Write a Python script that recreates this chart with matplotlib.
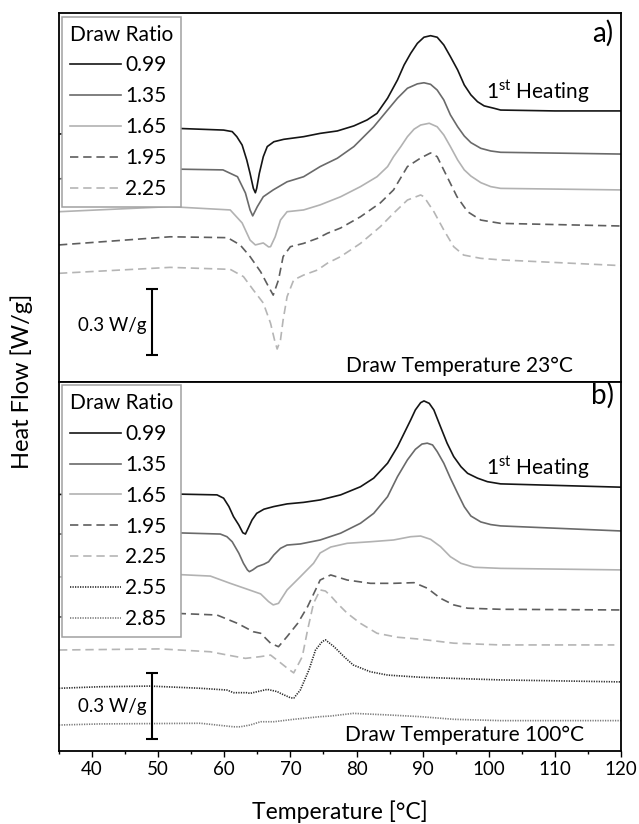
import matplotlib
matplotlib.use("Agg")
import matplotlib.pyplot as plt

plt.rcParams["font.family"] = ["Lato", "DejaVu Sans"]
plt.rcParams["mathtext.fontset"] = "custom"
plt.rcParams["mathtext.rm"] = "Lato"
plt.rcParams["lines.scale_dashes"] = False

# ---- panel a) draw temperature 23 C ----
A_099_T = [35, 45, 52.6, 59.9, 61.2, 61.9, 62.7, 63.4, 63.9, 64.4, 64.7, 64.9, 65.3, 65.9, 66.5, 67.5, 69.0,
           72.0, 74.5, 77.1, 79.6, 81.6, 83.1, 84.7, 86.2, 87.2, 88.2, 89.2, 90.2, 91.2, 92.2, 93.2, 94.2,
           95.3, 96.3, 97.3, 98.3, 99.3, 100.8, 101.8, 110, 120]
A_099_HF = [1.127, 1.141, 1.153, 1.145, 1.138, 1.115, 1.077, 1.009, 0.948, 0.880, 0.860, 0.880, 0.948, 1.024,
            1.070, 1.092, 1.103, 1.115, 1.130, 1.141, 1.164, 1.191, 1.221, 1.290, 1.373, 1.441, 1.494, 1.539,
            1.567, 1.574, 1.567, 1.532, 1.479, 1.418, 1.350, 1.305, 1.274, 1.255, 1.244, 1.236, 1.232, 1.232]

A_135_T = [35, 45, 51.8, 59.8, 62.0, 63.2, 63.9, 64.3, 65.0, 65.9, 67.4, 69.5, 72.0, 74.5, 77.1, 79.6, 81.1,
           82.6, 84.7, 86.2, 87.7, 89.2, 90.2, 91.2, 92.2, 93.2, 94.2, 95.3, 96.3, 97.3, 98.8, 100.3, 101.8, 120]
A_135_HF = [0.923, 0.955, 0.968, 0.964, 0.933, 0.859, 0.782, 0.755, 0.797, 0.842, 0.873, 0.910, 0.933, 0.979,
            1.017, 1.070, 1.115, 1.160, 1.236, 1.290, 1.335, 1.355, 1.360, 1.353, 1.327, 1.282, 1.214, 1.160,
            1.118, 1.088, 1.062, 1.050, 1.044, 1.036]

A_165_T = [35, 51.8, 60.9, 62.7, 63.9, 64.7, 65.9, 66.7, 67.0, 67.7, 68.5, 69.5, 72.0, 74.5, 77.6, 80.6, 83.1,
           84.7, 85.6, 86.7, 87.7, 88.7, 89.7, 91.0, 92.2, 93.2, 94.2, 95.3, 96.3, 97.3, 98.8, 100.3, 101.8, 120]
A_165_HF = [0.774, 0.797, 0.782, 0.723, 0.645, 0.623, 0.632, 0.614, 0.615, 0.660, 0.736, 0.774, 0.782, 0.805,
            0.842, 0.888, 0.933, 0.979, 1.024, 1.070, 1.115, 1.149, 1.168, 1.176, 1.160, 1.123, 1.070, 1.009,
            0.964, 0.936, 0.906, 0.888, 0.880, 0.873]

A_195_T = [35, 51.8, 60.5, 62.4, 63.9, 65.5, 66.7, 67.4, 68.2, 68.9, 70.0, 72.0, 74.1, 75.6, 77.6, 80.6, 83.6,
           85.6, 87.7, 89.7, 91.2, 92.2, 93.7, 95.2, 96.8, 98.8, 101.8, 120]
A_195_HF = [0.623, 0.660, 0.656, 0.623, 0.570, 0.501, 0.433, 0.395, 0.464, 0.570, 0.615, 0.630, 0.653, 0.676,
            0.700, 0.751, 0.814, 0.873, 0.979, 1.018, 1.041, 1.024, 0.933, 0.842, 0.774, 0.736, 0.721, 0.709]

A_225_T = [35, 51.8, 60.9, 62.9, 64.4, 65.9, 67.0, 67.6, 68.0, 68.5, 68.9, 69.5, 70.5, 72.0, 74.1, 75.6, 77.6,
           80.6, 83.6, 85.6, 87.7, 89.7, 90.2, 91.7, 93.2, 94.7, 96.2, 98.8, 101.8, 120]
A_225_HF = [0.494, 0.521, 0.512, 0.479, 0.418, 0.359, 0.267, 0.191, 0.150, 0.191, 0.282, 0.388, 0.464, 0.486,
            0.509, 0.540, 0.570, 0.630, 0.706, 0.767, 0.827, 0.850, 0.842, 0.774, 0.691, 0.615, 0.577, 0.562,
            0.555, 0.529]

# ---- panel b) draw temperature 100 C ----
B_099_T = [35, 52.3, 58.9, 59.9, 60.7, 61.4, 62.2, 62.8, 63.2, 63.5, 64.2, 64.9, 66.0, 67.5, 69.5, 72.0, 74.5,
           77.6, 80.6, 82.6, 84.7, 86.2, 87.2, 88.2, 88.9, 89.7, 90.2, 91.0, 91.7, 92.7, 93.7, 94.7, 95.8,
           96.8, 98.3, 99.8, 101.8, 120]
B_099_HF = [1.166, 1.168, 1.164, 1.149, 1.111, 1.065, 1.027, 0.992, 0.986, 1.005, 1.050, 1.080, 1.099, 1.111,
            1.123, 1.130, 1.141, 1.164, 1.201, 1.240, 1.308, 1.383, 1.444, 1.505, 1.550, 1.583, 1.591, 1.580,
            1.550, 1.474, 1.399, 1.338, 1.292, 1.262, 1.240, 1.224, 1.214, 1.199]

B_135_T = [35, 52.3, 59.4, 60.4, 61.2, 62.2, 62.9, 63.5, 63.8, 64.3, 65.0, 66.0, 66.7, 67.5, 68.5, 69.5, 71.5,
           74.5, 77.6, 80.6, 82.6, 84.7, 86.2, 87.7, 88.9, 89.9, 90.7, 91.5, 92.2, 93.2, 94.2, 95.3, 96.3,
           97.3, 98.8, 100.3, 101.8, 120]
B_135_HF = [0.986, 0.992, 0.986, 0.974, 0.951, 0.899, 0.853, 0.823, 0.815, 0.823, 0.838, 0.849, 0.860, 0.891,
            0.921, 0.936, 0.941, 0.959, 0.990, 1.035, 1.080, 1.156, 1.247, 1.323, 1.371, 1.395, 1.399, 1.391,
            1.361, 1.308, 1.240, 1.171, 1.110, 1.068, 1.041, 1.029, 1.023, 1.000]

B_165_T = [35, 52.3, 57.9, 60.9, 63.5, 65.5, 66.7, 67.4, 68.2, 69.5, 71.5, 73.5, 74.5, 76.1, 78.6, 82.1, 85.6,
           88.2, 89.7, 91.2, 92.7, 94.2, 95.8, 97.8, 101.8, 120]
B_165_HF = [0.791, 0.803, 0.795, 0.762, 0.735, 0.714, 0.679, 0.664, 0.671, 0.732, 0.792, 0.853, 0.900, 0.927,
            0.944, 0.951, 0.959, 0.974, 0.977, 0.962, 0.929, 0.883, 0.853, 0.835, 0.830, 0.823]

B_195_T = [35, 52.3, 58.9, 62.0, 64.4, 65.5, 67.0, 68.2, 69.5, 71.1, 72.6, 73.8, 74.5, 76.1, 78.6, 82.1, 85.6,
           88.7, 90.7, 92.7, 94.7, 96.8, 101.8, 120]
B_195_HF = [0.609, 0.626, 0.618, 0.580, 0.542, 0.535, 0.490, 0.474, 0.520, 0.580, 0.656, 0.732, 0.777, 0.800,
            0.777, 0.762, 0.762, 0.765, 0.740, 0.694, 0.664, 0.649, 0.644, 0.641]

B_225_T = [35, 50.3, 57.9, 60.5, 63.2, 65.5, 67.0, 68.5, 69.5, 70.5, 71.3, 71.8, 72.6, 73.5, 74.5, 75.3, 76.1,
           77.1, 78.6, 80.6, 83.1, 86.2, 89.7, 94.7, 101.8, 119]
B_225_HF = [0.459, 0.464, 0.451, 0.436, 0.421, 0.429, 0.436, 0.401, 0.377, 0.355, 0.400, 0.429, 0.550, 0.671,
            0.732, 0.727, 0.705, 0.671, 0.626, 0.580, 0.535, 0.517, 0.508, 0.490, 0.482, 0.482]

B_255_T = [35, 41.2, 48.8, 56.4, 60.4, 61.4, 63.4, 63.9, 66.5, 68.0, 68.5, 70.0, 70.5, 71.5, 72.8, 73.8, 74.8,
           75.3, 76.6, 78.1, 79.5, 82.1, 84.7, 89.7, 94.7, 101.8, 120]
B_255_HF = [0.285, 0.292, 0.295, 0.285, 0.277, 0.265, 0.265, 0.262, 0.280, 0.270, 0.262, 0.242, 0.240, 0.277,
            0.368, 0.459, 0.497, 0.505, 0.474, 0.429, 0.391, 0.360, 0.345, 0.335, 0.330, 0.323, 0.314]

B_285_T = [35, 41.2, 56.4, 61.4, 62.4, 63.9, 65.5, 67.5, 70.5, 74.5, 76.1, 79.5, 84.7, 89.7, 94.7, 101.8, 120]
B_285_HF = [0.118, 0.123, 0.126, 0.110, 0.110, 0.118, 0.133, 0.133, 0.144, 0.156, 0.159, 0.171, 0.164, 0.156,
            0.144, 0.138, 0.138]

RATIOS_A = ["0.99", "1.35", "1.65", "1.95", "2.25"]
RATIOS_B = ["0.99", "1.35", "1.65", "1.95", "2.25", "2.55", "2.85"]

# line look per draw ratio
STYLE = {
    "0.99": dict(color="#151515", linestyle="-"),
    "1.35": dict(color="#6a6a6a", linestyle="-"),
    "1.65": dict(color="#b2b2b2", linestyle="-"),
    "1.95": dict(color="#5e5e5e", dashes=(6, 3.5)),
    "2.25": dict(color="#b5b5b5", dashes=(6, 3.5)),
    "2.55": dict(color="#2a2a2a", dashes=(0.9, 0.9)),
    "2.85": dict(color="#7a7a7a", dashes=(0.9, 0.9)),
}

FS = 13.5
LEG_FS = 15


def draw_panel(ax, curves, ratios, tag, draw_temp, bar_y, text_y, tag_y, heat_y, temp_x, leg_top):
    for r, (t, hf) in zip(ratios, curves):
        ax.plot(t, hf, lw=1.2, label=r, **STYLE[r])

    ax.set_xlim(35, 120)
    ax.set_ylim(0, 1.677)
    ax.set_yticks([])

    # 0.3 W/g scale bar
    ax.errorbar([49.1], [bar_y], yerr=[0.15], color="black", lw=1.5, capsize=4, capthick=1.5)
    ax.text(48.3, text_y, "0.3 W/g", ha="right", va="center", fontsize=FS)

    ax.text(0.967, tag_y, tag, transform=ax.transAxes, ha="center", va="center", fontsize=20)
    ax.text(0.852, heat_y, "1$^{\\mathrm{st}}$ Heating", transform=ax.transAxes,
            ha="center", va="center", fontsize=15)
    ax.text(temp_x, 0.043, f"Draw Temperature {draw_temp}", transform=ax.transAxes,
            ha="center", va="center", fontsize=15)

    leg = ax.legend(title="Draw Ratio", loc="upper left", bbox_to_anchor=(0.0053, leg_top),
                    fontsize=LEG_FS, title_fontsize=LEG_FS,
                    handlelength=2.45, handletextpad=0.2, borderaxespad=0, borderpad=0.38,
                    labelspacing=0.52, fancybox=False, framealpha=1, edgecolor="#a0a0a0",
                    alignment="left")
    leg.get_frame().set_linewidth(1.1)

    for s in ax.spines.values():
        s.set_linewidth(1.3)


fig = plt.figure(figsize=(6.39, 8.24), dpi=100)
ax_a = fig.add_axes([0.0923, 0.5364, 0.8795, 0.4478])
ax_b = fig.add_axes([0.0923, 0.0886, 0.8795, 0.4478])

curves_a = [(A_099_T, A_099_HF), (A_135_T, A_135_HF), (A_165_T, A_165_HF),
            (A_195_T, A_195_HF), (A_225_T, A_225_HF)]
curves_b = [(B_099_T, B_099_HF), (B_135_T, B_135_HF), (B_165_T, B_165_HF),
            (B_195_T, B_195_HF), (B_225_T, B_225_HF), (B_255_T, B_255_HF),
            (B_285_T, B_285_HF)]

draw_panel(ax_a, curves_a, RATIOS_A, "a)", "23°C", 0.273, 0.259, 0.946, 0.786, 0.712, 0.990)
draw_panel(ax_b, curves_b, RATIOS_B, "b)", "100°C", 0.205, 0.200, 0.965, 0.767, 0.722, 0.991)

ax_a.set_xticks([])
ax_b.set_xticks(range(40, 121, 10))
ax_b.set_xticks(range(35, 121, 10), minor=True)
ax_b.tick_params(axis="x", which="major", direction="out", length=4, width=1, labelsize=FS, pad=3)
ax_b.tick_params(axis="x", which="minor", direction="out", length=2.5, width=1)
ax_b.set_xlabel("Temperature [°C]", fontsize=16.5, labelpad=16)

fig.text(22 / 639, 0.5376, "Heat Flow [W/g]", rotation=90, ha="center", va="center", fontsize=17)

fig.savefig("out.png", dpi=100)
